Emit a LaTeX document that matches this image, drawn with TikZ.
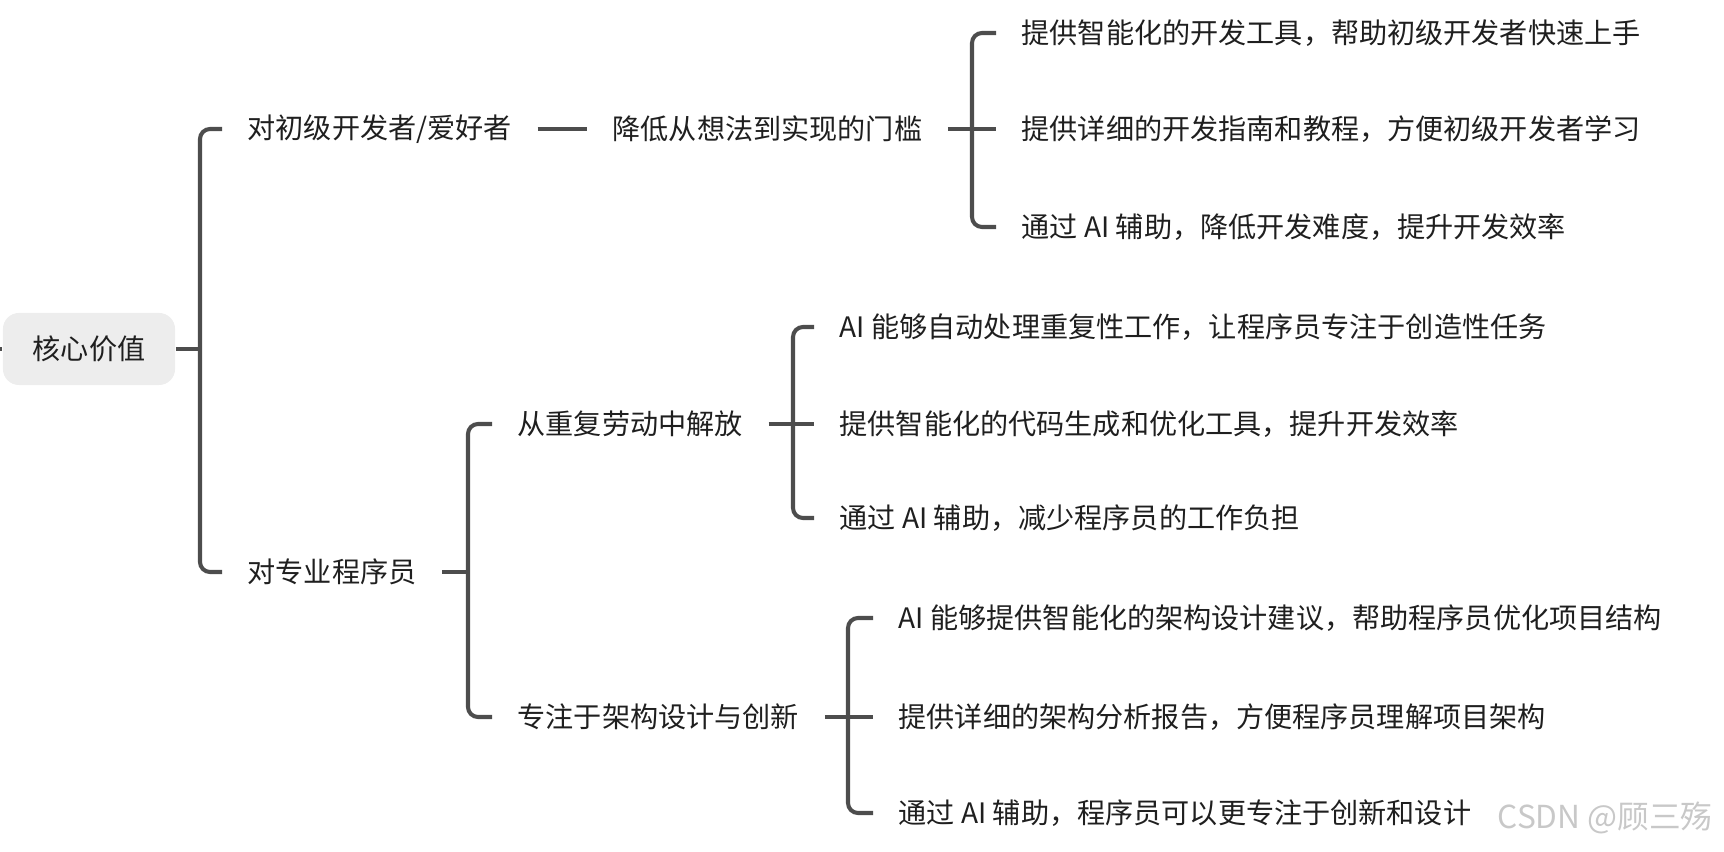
\documentclass[tikz,border=0pt]{standalone}
\usepackage{fontspec}
\setmainfont{Noto Sans CJK SC}
\definecolor{ln}{HTML}{4D4D4D}
\definecolor{tx}{HTML}{1F1F1F}
\definecolor{rootfill}{HTML}{EDEDED}
\definecolor{wmc}{HTML}{C8C8C8}
\begin{document}
\begin{tikzpicture}[x=0.01cm,y=-0.01cm,
  conn/.style={draw=ln,line width=1.15pt,rounded corners=0.1cm},
  item/.style={anchor=west,inner xsep=0.25cm,inner ysep=0pt,text=tx,font=\fontsize{8pt}{10pt}\selectfont},
  rootbox/.style={fill=rootfill,rounded corners=0.16cm,minimum width=1.72cm,minimum height=0.72cm,inner sep=0pt,text=tx,font=\fontsize{8pt}{10pt}\selectfont},
  wmark/.style={anchor=west,inner sep=0pt,text=wmc,font=\fontsize{9pt}{11pt}\selectfont}]
\useasboundingbox (0,0) rectangle (1724,852);

\node[rootbox] (root) at (89,349) {核心价值};
\coordinate (stub) at (0,349);

\node[item] (a) at (222,129) {对初级开发者/爱好者};
\node[item] (b) at (222,572) {对专业程序员};

\node[item] (a1) at (587,129) {降低从想法到实现的门槛};
\node[item] (a11) at (996,33) {提供智能化的开发工具，帮助初级开发者快速上手};
\node[item] (a12) at (996,129) {提供详细的开发指南和教程，方便初级开发者学习};
\node[item] (a13) at (996,227) {通过 AI 辅助，降低开发难度，提升开发效率};

\node[item] (b1) at (492,424) {从重复劳动中解放};
\node[item] (b2) at (492,717) {专注于架构设计与创新};

\node[item] (b11) at (814,327) {AI 能够自动处理重复性工作，让程序员专注于创造性任务};
\node[item] (b12) at (814,424) {提供智能化的代码生成和优化工具，提升开发效率};
\node[item] (b13) at (814,518) {通过 AI 辅助，减少程序员的工作负担};

\node[item] (b21) at (873,618) {AI 能够提供智能化的架构设计建议，帮助程序员优化项目结构};
\node[item] (b22) at (873,717) {提供详细的架构分析报告，方便程序员理解项目架构};
\node[item] (b23) at (873,813) {通过 AI 辅助，程序员可以更专注于创新和设计};

\node[wmark] (wm) at (1497,818) {CSDN @顾三殇};

\coordinate (k0) at (200,349);
\coordinate (k1) at (972,129);
\coordinate (k2) at (468,572);
\coordinate (k3) at (793,424);
\coordinate (k4) at (848,717);

\draw[conn] (stub) -- (root.west);
\draw[conn] (root.east) -- (k0);
\draw[conn] (a.west) -| (k0 |- b.west) -- (b.west);

\draw[conn] (a.east) -- (a1.west);
\draw[conn] (a1.east) -- (k1);
\draw[conn] (a11.west) -| (k1 |- a13.west) -- (a13.west);
\draw[conn] (k1) -- (a12.west);

\draw[conn] (b.east) -- (k2);
\draw[conn] (b1.west) -| (k2 |- b2.west) -- (b2.west);

\draw[conn] (b1.east) -- (k3);
\draw[conn] (b11.west) -| (k3 |- b13.west) -- (b13.west);
\draw[conn] (k3) -- (b12.west);

\draw[conn] (b2.east) -- (k4);
\draw[conn] (b21.west) -| (k4 |- b23.west) -- (b23.west);
\draw[conn] (k4) -- (b22.west);
\end{tikzpicture}
\end{document}
